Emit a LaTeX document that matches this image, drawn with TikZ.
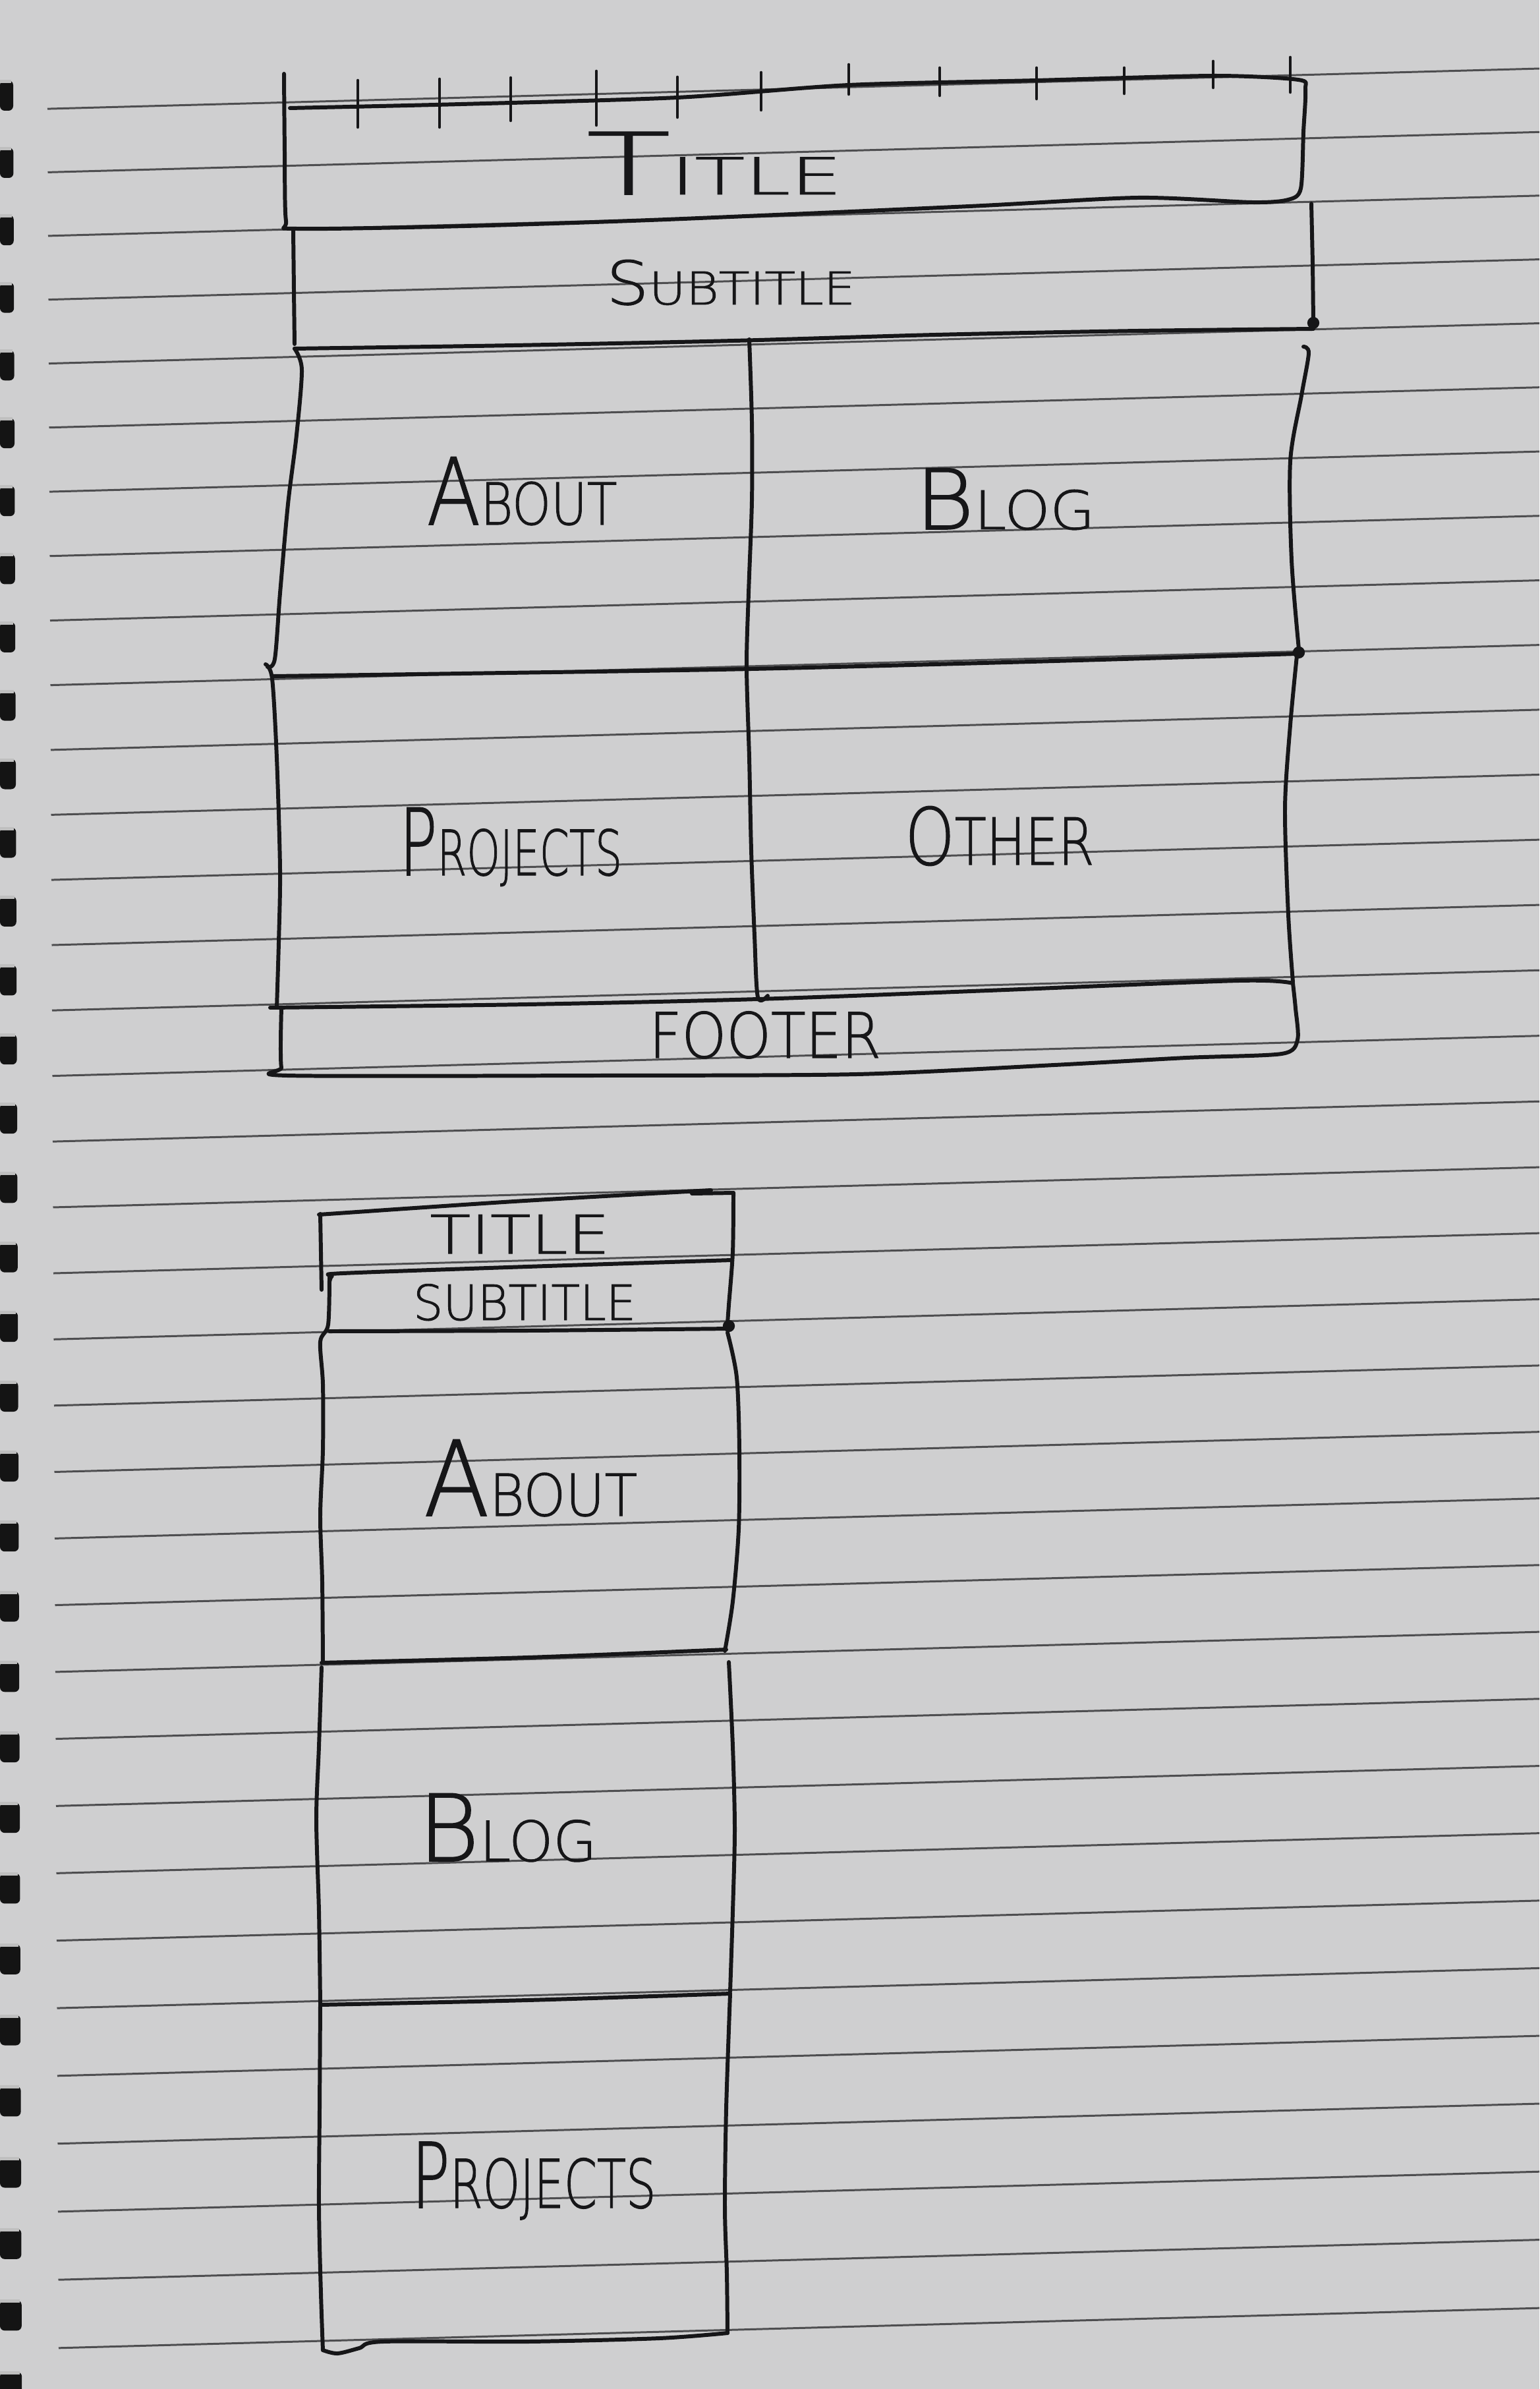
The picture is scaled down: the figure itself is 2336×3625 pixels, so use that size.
\documentclass[tikz,border=0pt]{standalone}
\usepackage{fontspec}
\usepackage{graphicx}
\IfFontExistsTF{DejaVu Sans ExtraLight}
  {\newfontfamily\penfont[FakeBold=1.2]{DejaVu Sans ExtraLight}}
  {\newfontfamily\penfont{Liberation Sans}}
\definecolor{paper}{RGB}{207,207,208}
\definecolor{ruling}{RGB}{78,78,80}
\definecolor{ink}{RGB}{22,22,24}
\definecolor{ring}{RGB}{20,20,20}
\newlength\skpx
\setlength\skpx{0.01cm}
% hand lettering: width, size of first letter, first letter, size of the rest, rest
\newcommand\handword[5]{\resizebox{#1\skpx}{\height}{{\fontsize{#2}{#2}\selectfont #3}{\fontsize{#4}{#4}\selectfont #5}}}
\tikzset{
  rule/.style={line width=0.85pt, ruling},
  inkline/.style={line width=1.7pt, ink, line cap=round, line join=round},
  tick/.style={line width=1.3pt, ink, line cap=round},
  lbl/.style={inner sep=0pt, outer sep=0pt, font=\penfont, text=ink, anchor=base},
  inkdot/.style={fill=ink},
}
\begin{document}
\begin{tikzpicture}[x=0.01cm, y=-0.01cm]
\useasboundingbox (0,0) rectangle (2336,3625);
\fill[paper] (0,0) rectangle (2336,3625);

% ruled lines of the notebook page
\foreach \i in {0,...,34}{
  \pgfmathsetmacro\yy{159+96.18*\i+0.1107*\i*\i}
  \pgfmathsetmacro\xs{72+0.5*\i}
  \pgfmathsetmacro\yl{\yy+0.027*(300-\xs)}
  \pgfmathsetmacro\yr{\yy-0.027*(2336-300)}
  \draw[rule] (\xs,\yl) -- (2336,\yr);
}

% spiral binding holes
\foreach \j in {0,...,33}{
  \pgfmathsetmacro\c{145+101.9*\j+0.105*\j*\j}
  \pgfmathsetmacro\w{20+0.4*\j}
  \fill[ring, rounded corners=2pt] (0,\c-23) rectangle (\w,\c+23);
  \fill[black!25] (0,\c-24) rectangle (\w-3,\c-19);
}

% ---------------- desktop layout ----------------
% title band with ruler ticks
\draw[inkline] plot[smooth, tension=0.45] coordinates {(431,112) (432,230) (434,335) (450,347) (706,343) (1012,333) (1471,313) (1727,300) (1900,307) (1955,303) (1974,286) (1978,200) (1981,136) (1970,121) (1841,115) (1573,122) (1288,129) (1028,148) (700,158) (440,164)};
\foreach \x/\a/\b in {543/122/193, 667/120/193, 775/118/183, 905/108/190, 1028/117/178, 1155/110/167, 1288/98/143, 1426/103/145, 1573/103/150, 1706/103/142, 1841/93/133, 1958/87/140}
  \draw[tick] (\x,\a) -- (\x,\b);

% subtitle band
\draw[inkline] (445,349) -- (446,440) -- (447,522);
\draw[inkline] (1990,309) -- (1992,400) -- (1993,488);
\fill[inkdot] (1993,490) circle (2.6pt);
\draw[inkline] plot[smooth, tension=0.5] coordinates {(447,529) (780,524) (1114,517) (1420,508) (1727,502) (1993,499)};

% content grid
\draw[inkline] plot[smooth, tension=0.5] coordinates {(447,529) (458,561) (450,660) (437,765) (425,900) (417,1000) (406,1012)};
\draw[inkline] plot[smooth, tension=0.5] coordinates {(403,1008) (413,1030) (420,1150) (425,1319) (423,1430) (420,1529)};
\draw[inkline] plot[smooth, tension=0.5] coordinates {(415,1026) (700,1022) (1140,1015) (1600,1003) (1968,992)};
\draw[inkline] plot[smooth, tension=0.5] coordinates {(1137,515) (1141,640) (1141,760) (1136,900) (1133,1012) (1137,1150) (1140,1290) (1145,1420) (1150,1513) (1165,1511)};
\draw[inkline] plot[smooth, tension=0.5] coordinates {(1978,526) (1986,536) (1975,600) (1958,700) (1960,850) (1971,985)};
\fill[inkdot] (1971,990) circle (2.6pt);
\draw[inkline] plot[smooth, tension=0.5] coordinates {(1968,995) (1958,1100) (1950,1226) (1955,1388) (1962,1490)};

% footer band
\draw[inkline] plot[smooth, tension=0.5] coordinates {(410,1529) (800,1524) (1150,1516) (1500,1503) (1880,1488) (1962,1492)};
\draw[inkline] plot[smooth, tension=0.45] coordinates {(1962,1492) (1966,1530) (1969,1578) (1945,1599) (1800,1605) (1600,1616) (1300,1630) (900,1632) (436,1632) (427,1620) (426,1580) (427,1529)};

% desktop labels
\node[lbl] (webTitle)    at (1084,295)  {\handword{388}{37}{T}{22}{ITLE}};
\node[lbl] (webSubtitle) at (1109,462)  {\handword{378}{26}{S}{19.5}{UBTITLE}};
\node[lbl] (webAbout)    at (792,796)   {\handword{289}{40}{A}{25}{BOUT}};
\node[lbl] (webBlog)     at (1525,803)  {\handword{273}{36}{B}{23}{LOG}};
\node[lbl] (webProjects) at (775,1328)  {\handword{338}{40}{P}{27}{ROJECTS}};
\node[lbl] (webOther)    at (1517,1312) {\handword{287}{34}{O}{28}{THER}};
\node[lbl] (webFooter)   at (1161,1605) {\handword{352}{27}{F}{27}{OOTER}};

% ---------------- mobile layout ----------------
\draw[inkline] plot[smooth, tension=0.5] coordinates {(484,1843) (780,1823) (1079,1806)};
\draw[inkline] (1050,1811) -- (1113,1810);
\draw[inkline] (486,1842) -- (487,1900) -- (488,1957);
\draw[inkline] plot[smooth, tension=0.5] coordinates {(1113,1810) (1112,1900) (1106,1980) (1104,2008)};
\fill[inkdot] (1106,2012) circle (2.6pt);
\draw[inkline] plot[smooth, tension=0.5] coordinates {(500,1945) (504,1936) (520,1932) (800,1922) (1110,1912)};
\draw[inkline] plot[smooth, tension=0.5] coordinates {(500,2020) (800,2019) (1108,2016)};

% about
\draw[inkline] plot[smooth, tension=0.5] coordinates {(500,1938) (498,2010) (486,2036) (490,2100) (490,2200) (486,2300) (489,2400) (490,2523)};
\draw[inkline] plot[smooth, tension=0.5] coordinates {(1104,2022) (1118,2090) (1122,2200) (1121,2320) (1112,2430) (1100,2505)};
\draw[inkline] plot[smooth, tension=0.5] coordinates {(488,2523) (800,2515) (1102,2503)};

% blog
\draw[inkline] plot[smooth, tension=0.5] coordinates {(488,2530) (484,2650) (480,2760) (484,2900) (486,3040)};
\draw[inkline] plot[smooth, tension=0.5] coordinates {(1106,2522) (1112,2650) (1115,2776) (1112,2900) (1108,3022)};
\draw[inkline] plot[smooth, tension=0.5] coordinates {(486,3042) (800,3035) (1108,3025)};

% projects
\draw[inkline] plot[smooth, tension=0.5] coordinates {(486,3042) (485,3200) (484,3350) (487,3480) (490,3566)};
\draw[inkline] plot[smooth, tension=0.5] coordinates {(1108,3025) (1102,3200) (1100,3350) (1103,3450) (1104,3540)};
\draw[inkline] plot[smooth, tension=0.5] coordinates {(490,3566) (512,3571) (545,3563) (581,3553) (800,3553) (1000,3548) (1104,3540)};

% mobile labels
\node[lbl] (appTitle)    at (789,1902)  {\handword{273}{23}{T}{23}{ITLE}};
\node[lbl] (appSubtitle) at (796,2003)  {\handword{338}{21}{S}{21}{UBTITLE}};
\node[lbl] (appAbout)    at (805,2300)  {\handword{324}{45}{A}{25}{BOUT}};
\node[lbl] (appBlog)     at (770,2824)  {\handword{271}{40}{B}{24}{LOG}};
\node[lbl] (appProjects) at (810,3350)  {\handword{371}{39}{P}{29}{ROJECTS}};
\end{tikzpicture}
\end{document}
